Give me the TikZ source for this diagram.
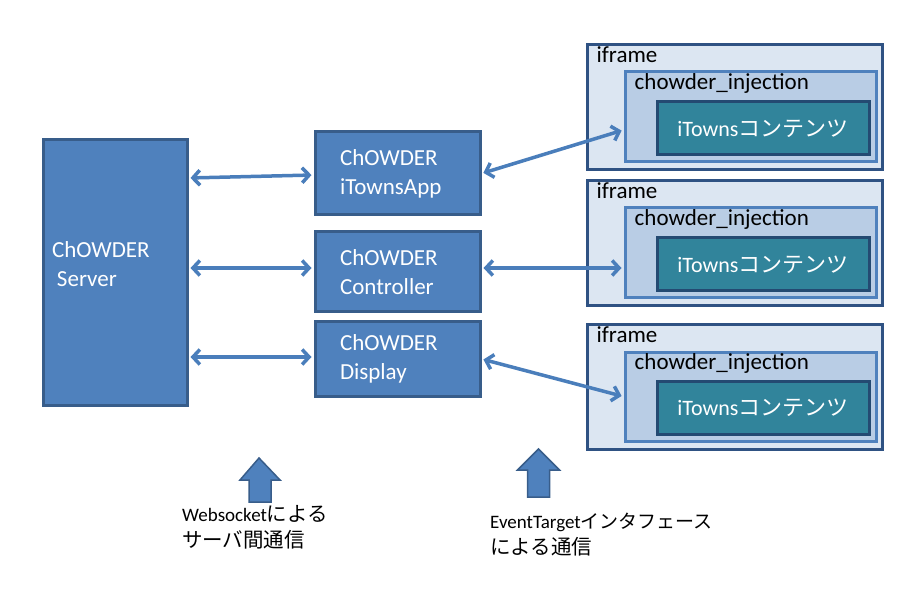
\documentclass[tikz,border=0pt]{standalone}
\usepackage{fontspec}
\setmainfont{Carlito}
\newfontfamily\cjk{Noto Sans CJK JP}
\usetikzlibrary{arrows.meta}

\definecolor{unitfill}{HTML}{4F81BD}
\definecolor{unitedge}{HTML}{385D8A}
\definecolor{framefill}{HTML}{DCE6F2}
\definecolor{frameedge}{HTML}{2F5283}
\definecolor{injfill}{HTML}{B9CDE5}
\definecolor{injedge}{HTML}{4F81BD}
\definecolor{townsfill}{HTML}{31849B}
\definecolor{townsedge}{HTML}{244A72}
\definecolor{linkblue}{HTML}{4A7EBB}

\tikzset{
  unit/.style={draw=unitedge,fill=unitfill,line width=3pt,text=white,align=left,
    inner sep=0pt,font=\fontsize{23}{29}\selectfont},
  frame/.style={draw=frameedge,fill=framefill,line width=3pt,minimum width=295,inner sep=0pt},
  inj/.style={draw=injedge,fill=injfill,line width=3pt,minimum width=251,inner sep=0pt},
  towns/.style={draw=townsedge,fill=townsfill,line width=3pt,minimum width=212,minimum height=53,
    text=white,font=\fontsize{22}{28}\selectfont},
  tag/.style={anchor=north west,inner xsep=11pt,inner ysep=3pt,font=\fontsize{23}{28}\selectfont},
  link/.style={<->,draw=linkblue,line width=3.5pt,shorten <=2pt,shorten >=2pt,
    >={Straight Barb[length=7pt,width=15pt]}},
  upblock/.style={draw=unitedge,fill=unitfill,line width=1.5pt,line join=miter},
  note/.style={align=left,anchor=north west,inner sep=0pt,font=\fontsize{19}{26}\selectfont},
  kana/.style={font=\cjk\fontsize{20.5}{26}\selectfont}
}

\begin{document}
\begin{tikzpicture}[x=1pt,y=-1pt]
    \useasboundingbox (0,0) rectangle (911,604);
    \path (115,272.5) node [unit,minimum width=144,minimum height=265,text width=126] (server) {ChOWDER\\\hspace*{5pt}Server\\[-13pt]\mbox{}};
    \path (397.5,173.5) node [unit,minimum width=165,minimum height=83,text width=115] (app) {ChOWDER\\iTownsApp};
    \path (397.5,272) node [unit,minimum width=165,minimum height=80,text width=115] (ctrl) {ChOWDER\\Controller};
    \path (397.5,359) node [unit,minimum width=165,minimum height=74,text width=115] (disp) {ChOWDER\\Display};

    \path (734.5,107.5) node [frame,minimum height=125] (frameA) {};
    \path (frameA.north west) node [tag] (tagA) {iframe};
    \path (750.5,117) node [inj,minimum height=90] (injA) {};
    \path (injA.north west) node [tag] (itagA) {chowder\_injection};
    \path (763,128.5) node [towns] (townsA) {iTowns\cjk コンテンツ};

    \path (734.5,243.5) node [frame,minimum height=125] (frameB) {};
    \path (frameB.north west) node [tag] (tagB) {iframe};
    \path (750.5,253) node [inj,minimum height=90] (injB) {};
    \path (injB.north west) node [tag] (itagB) {chowder\_injection};
    \path (763,264.5) node [towns] (townsB) {iTowns\cjk コンテンツ};

    \path (734.5,387) node [frame,minimum height=124] (frameC) {};
    \path (frameC.north west) node [tag] (tagC) {iframe};
    \path (750.5,396.5) node [inj,minimum height=89] (injC) {};
    \path (injC.north west) node [tag] (itagC) {chowder\_injection};
    \path (763,407.5) node [towns] (townsC) {iTowns\cjk コンテンツ};

    \draw [link] ([yshift=-4.5pt]server.east |- app.west) -- ([yshift=-1.5pt]app.west);
    \draw [link] ([yshift=4pt]server.east |- ctrl.west) -- ([yshift=4pt]ctrl.west);
    \draw [link] ([yshift=2pt]server.east |- disp.west) -- ([yshift=2pt]disp.west);
    \draw [link] (app.east) -- ([yshift=-13pt]injA.west);
    \draw [link] ([yshift=4pt]ctrl.east) -- ([yshift=4pt]ctrl.east -| injB.west);
    \draw [link] (disp.east) -- (injC.west);

    \draw [upblock] (259,458) -- ++(21,22) -- ++(-9,0) -- ++(0,22) -- ++(-22,0) -- ++(0,-22) -- ++(-9,0) -- cycle;
    \draw [upblock] (538.5,449) -- ++(21,21) -- ++(-10,0) -- ++(0,27) -- ++(-22,0) -- ++(0,-27) -- ++(-10,0) -- cycle;
    \path (182,505) node [note] (wsnote) {Websocket{\cjk\fontsize{20.5}{26}\selectfont による}\\{\cjk\fontsize{20.5}{26}\selectfont サーバ間通信}};
    \path (490,513) node [note] (evnote) {EventTarget{\cjk インタフェース}\\{\cjk\fontsize{20.5}{26}\selectfont による通信}};
\end{tikzpicture}
\end{document}
